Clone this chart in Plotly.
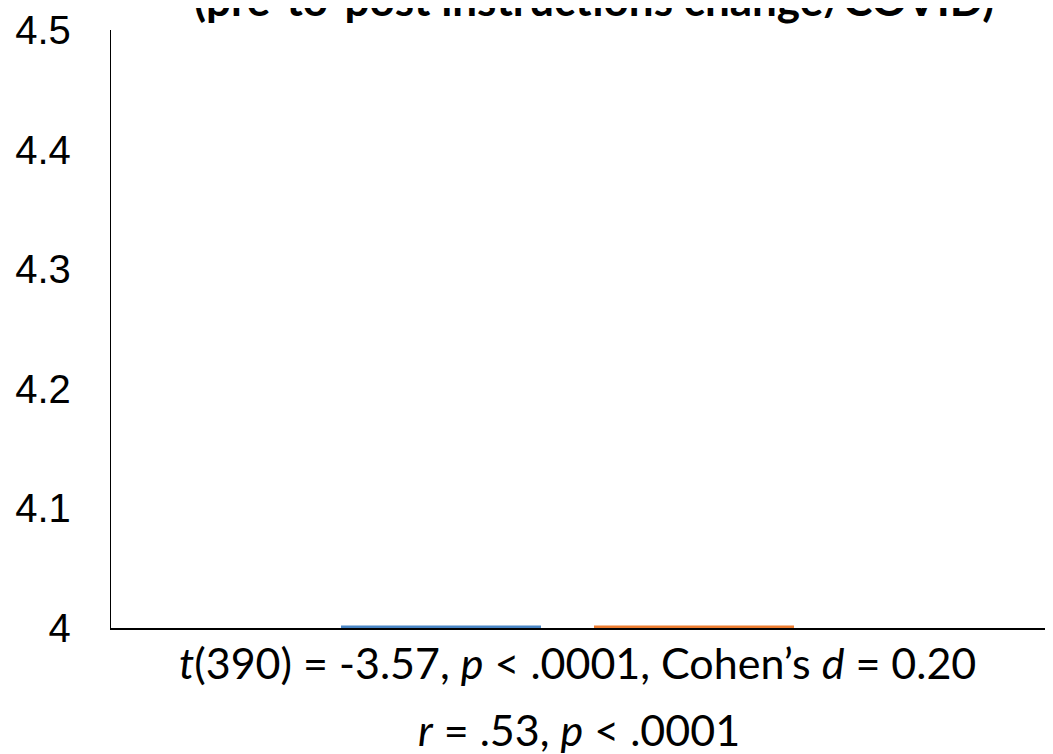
import plotly.graph_objects as go

# Data (bars are clipped at axis minimum in the reference)
categories = [""]
series_names = ["Pre", "Post"]
pre_values = [4.002]
post_values = [4.002]
series_colors = ["#4A86C5", "#ED7D31"]
y_tickvals = [4.0, 4.1, 4.2, 4.3, 4.4, 4.5]
y_ticktext = ["4", "4.1", "4.2", "4.3", "4.4", "4.5"]
title_text = "(pre-to-post instructions change/COVID)"
stat_line1 = "<i>t</i>(390) = -3.57, <i>p</i> &lt; .0001, Cohen’s <i>d</i> = 0.20"
stat_line2 = "<i>r</i> = .53, <i>p</i> &lt; .0001"

# page has an 8px body margin
W, H = 1045, 746
L, T = 103, 20
PH = 600
B = H - T - PH
PW = W - L


def px(page_x):
    return (page_x - 111) / PW


def py(page_y):
    return (628 - page_y) / PH


fig = go.Figure()
fig.add_trace(go.Bar(x=[0], y=pre_values, name=series_names[0],
                     marker=dict(color=series_colors[0], line=dict(width=0))))
fig.add_trace(go.Bar(x=[0], y=post_values, name=series_names[1],
                     marker=dict(color=series_colors[1], line=dict(width=0))))

fig.update_layout(
    width=W, height=H,
    margin=dict(l=L, r=0, t=T, b=B, pad=0),
    paper_bgcolor="white", plot_bgcolor="white",
    showlegend=False,
    barmode="group", bargap=0.4628, bargroupgap=0.2095,
    xaxis=dict(range=[-0.4846, 0.5154], showticklabels=False, showgrid=False,
               zeroline=False, showline=True, linecolor="black", linewidth=2,
               ticks="", fixedrange=True),
    yaxis=dict(range=[4.0, 4.5], tickvals=y_tickvals, ticktext=y_ticktext,
               showgrid=False, zeroline=False, showline=True, linecolor="black",
               linewidth=1.3, ticks="", ticklabelstandoff=31,
               ticklabeloverflow="allow",
               tickfont=dict(family="Liberation Sans, Arial", size=40, color="black")),
    font=dict(family="Lato", color="black"),
)

fig.add_annotation(text="<b>" + title_text + "</b>", xref="paper", yref="paper",
                   x=px(594), y=py(25), xanchor="center",
                   yanchor="bottom", showarrow=False,
                   font=dict(family="Lato", size=44, color="black"))
fig.add_annotation(text=stat_line1, xref="paper", yref="paper",
                   x=px(577), y=py(690), xanchor="center",
                   yanchor="bottom", showarrow=False,
                   font=dict(family="Lato", size=43, color="black"))
fig.add_annotation(text=stat_line2, xref="paper", yref="paper",
                   x=px(578.5), y=py(757), xanchor="center",
                   yanchor="bottom", showarrow=False,
                   font=dict(family="Lato", size=43, color="black"))

fig.write_html("out.html")
